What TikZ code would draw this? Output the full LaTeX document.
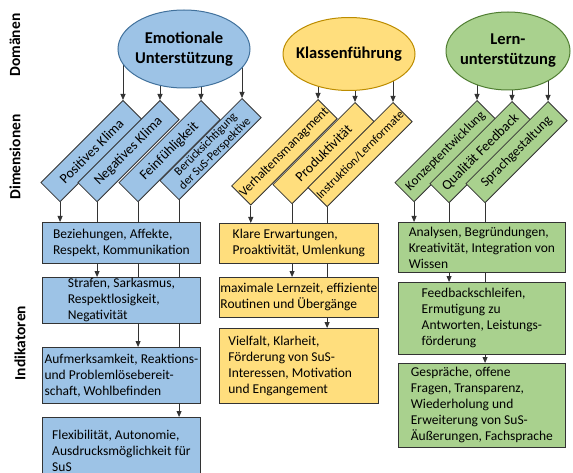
\documentclass[tikz,border=0pt]{standalone}
\usepackage{fontspec}
\setmainfont{Carlito}
\usetikzlibrary{arrows.meta,shapes.geometric,backgrounds}
\definecolor{emoblue}{RGB}{157,195,230}
\definecolor{emoline}{RGB}{65,113,156}
\definecolor{klagold}{RGB}{255,222,125}
\definecolor{klaline}{RGB}{188,140,0}
\definecolor{lerngreen}{RGB}{169,209,142}
\definecolor{lernline}{RGB}{80,126,50}
\tikzset{
  domell/.style={ellipse,draw,line width=1pt,inner sep=0pt},
  domtext/.style={font=\bfseries\fontsize{16.5}{20}\selectfont,align=center},
  dimbox/.style={draw=black!80,line width=0.8pt,rotate=45,anchor=north east,
    minimum width=116pt,minimum height=27pt,inner sep=1pt,align=center,
    font=\fontsize{14}{15}\selectfont},
  indbox/.style={draw=black!80,line width=0.8pt,anchor=north west,
    align=left,inner sep=0pt,font=\fontsize{13.5}{16}\selectfont},
  rowlabel/.style={rotate=90,font=\bfseries\fontsize{15.5}{18}\selectfont},
  arr/.style={draw=black!80,line width=0.8pt,-{Triangle[length=6pt,width=5pt]}}
}
\begin{document}
\begin{tikzpicture}[x=1pt,y=-1pt]
\useasboundingbox (0,0) rectangle (573,473);

\node[rowlabel] (ldom) at (15,45) {Domänen};
\node[rowlabel] (ldim) at (15,157) {Dimensionen};
\node[rowlabel] (lind) at (20,343) {Indikatoren};

\node[domell,fill=emoblue,draw=emoline,minimum width=132pt,minimum height=78pt] (emo) at (184,49) {};
\node[domtext] (emot) at (emo.center) {Emotionale\\Unterstützung};
\node[domell,fill=klagold,draw=klaline,minimum width=132pt,minimum height=73pt] (kla) at (349,54) {};
\node[domtext] (klat) at (kla.center) {Klassenführung};
\node[domell,fill=lerngreen,draw=lernline,minimum width=124pt,minimum height=78pt] (lern) at (508,51) {};
\node[domtext] (lernt) at (lern.center) {Lern-\\unterstützung};

\node[dimbox,fill=emoblue] (pk) at (123,100) {Positives Klima};
\node[dimbox,fill=emoblue] (nk) at (160,100) {Negatives Klima};
\node[dimbox,fill=emoblue] (ff) at (201,100) {Feinfühligkeit};
\node[dimbox,fill=emoblue,font=\fontsize{12}{13}\selectfont] (bsp) at (242,98) {Berücksichtigung\\der SuS-Perspektive};

\node[dimbox,fill=klagold,font=\fontsize{13}{14}\selectfont] (vm) at (318,99) {Verhaltensmanagment};
\node[dimbox,fill=klagold] (pr) at (355,102) {Produktivität};
\node[dimbox,fill=klagold,font=\fontsize{12}{13}\selectfont] (il) at (393,102) {Instruktion/Lernformate};

\node[dimbox,fill=lerngreen,font=\fontsize{13}{14}\selectfont] (kz) at (477,100) {Konzeptentwicklung};
\node[dimbox,fill=lerngreen] (qf) at (512,101) {Qualität Feedback};
\node[dimbox,fill=lerngreen,font=\fontsize{13.5}{14}\selectfont] (sg) at (548,101) {Sprachgestaltung};

\node[indbox,fill=emoblue,minimum width=158pt,minimum height=41pt] (b1) at (42,222) {Beziehungen, Affekte,\\Respekt, Kommunikation};
\node[indbox,fill=emoblue,minimum width=158pt,minimum height=46pt] (b2) at (42,277) {Strafen, Sarkasmus,\\Respektlosigkeit,\\Negativität};
\node[indbox,fill=emoblue,minimum width=158pt,minimum height=56pt] (b3) at (42,347) {Aufmerksamkeit, Reaktions-\\und Problemlösebereit-\\schaft, Wohlbefinden};
\node[indbox,fill=emoblue,minimum width=158pt,minimum height=66pt] (b4) at (42,417) {Flexibilität, Autonomie,\\Ausdrucksmöglichkeit für\\SuS};

\node[indbox,fill=klagold,minimum width=159pt,minimum height=40pt] (y1) at (219,223) {Klare Erwartungen,\\Proaktivität, Umlenkung};
\node[indbox,fill=klagold,minimum width=159pt,minimum height=40pt] (y2) at (219,277) {maximale Lernzeit, effiziente\\Routinen und Übergänge};
\node[indbox,fill=klagold,minimum height=75pt,text width=141pt,inner xsep=9pt,align=flush left] (y3) at (219,328) {Vielfalt, Klarheit,\\Förderung von SuS-\\Interessen, Motivation\\und Engangement};

\node[indbox,fill=lerngreen,minimum width=167pt,minimum height=50pt] (g1) at (398,222) {Analysen, Begründungen,\\Kreativität, Integration von\\Wissen};
\node[indbox,fill=lerngreen,minimum width=167pt,minimum height=72pt] (g2) at (398,282) {Feedbackschleifen,\\Ermutigung zu\\Antworten, Leistungs-\\förderung};
\node[indbox,fill=lerngreen,minimum width=167pt,minimum height=84pt] (g3) at (398,363) {Gespräche, offene\\Fragen, Transparenz,\\Wiederholung und\\Erweiterung von SuS-\\Äußerungen, Fachsprache};

\begin{scope}[on background layer]
\foreach \d in {pk,nk,ff,bsp}
  \draw[arr] (emo.center -| \d.north east) -- (\d.north east);
\foreach \d in {vm,pr,il}
  \draw[arr] (kla.center -| \d.north east) -- (\d.north east);
\foreach \d in {kz,qf,sg}
  \draw[arr] (lern.center -| \d.north east) -- (\d.north east);
\foreach \d/\b in {pk/b1,nk/b2,ff/b3,bsp/b4,vm/y1,pr/y2,il/y3,kz/g1,qf/g2,sg/g3}
  \draw[arr] (\d.south west) -- (\d.south west |- \b.north);
\end{scope}
\end{tikzpicture}
\end{document}
